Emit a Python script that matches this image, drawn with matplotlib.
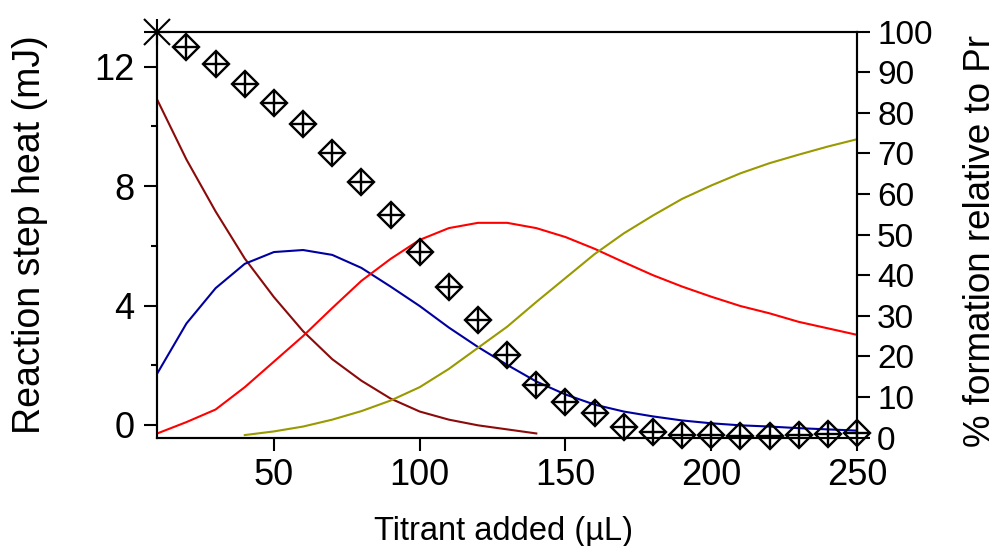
import matplotlib
matplotlib.use("Agg")
import matplotlib.pyplot as plt

plt.rcParams['font.family'] = ['Liberation Sans', 'DejaVu Sans']

# Titrant volume grids (µL)
vol_full = [10, 20, 30, 40, 50, 60, 70, 80, 90, 100, 110, 120, 130, 140, 150,
            160, 170, 180, 190, 200, 210, 220, 230, 240, 250]
vol_early = vol_full[:14]            # 10 .. 140
vol_late = vol_full[3:]              # 40 .. 250
vol_steps = vol_full[1:]             # 20 .. 250

# Species formation (%), right axis
species_free = [83.2, 68.5, 55.7, 44.1, 34.6, 26.2, 19.3, 14.0, 9.6, 6.4, 4.4,
                3.0, 2.0, 1.0]
species_1 = [15.8, 28.1, 36.8, 42.8, 45.7, 46.2, 45.0, 41.8, 37.2, 32.4, 27.1,
             22.3, 17.9, 13.8, 10.6, 8.1, 6.4, 5.2, 4.2, 3.5, 3.0, 2.7, 2.3,
             2.0, 1.7]
species_2 = [1.0, 3.8, 6.9, 12.4, 18.7, 25.0, 31.9, 38.6, 44.0, 48.7, 51.6,
             52.9, 52.9, 51.6, 49.4, 46.5, 43.2, 40.0, 37.2, 34.7, 32.4, 30.6,
             28.5, 26.9, 25.3]
species_3 = [0.6, 1.5, 2.7, 4.4, 6.5, 9.1, 12.4, 16.9, 22.1, 27.3, 33.4, 39.3,
             45.2, 50.3, 54.7, 58.8, 62.1, 65.1, 67.6, 69.7, 71.7, 73.5]

# Measured step heats (scaled to the right axis)
start_vol = [10]
start_val = [100.0]
step_vals = [96.3, 92.0, 87.1, 82.5, 77.3, 70.2, 63.0, 54.8, 45.8, 37.2, 29.0,
             20.3, 12.9, 8.8, 6.0, 2.7, 1.3, 0.6, 0.5, 0.4, 0.4, 0.6, 0.9, 1.0]

left_major = [0, 4, 8, 12]
left_minor = [2, 6, 10]
x_ticks = [50, 100, 150, 200, 250]
right_ticks = [0, 10, 20, 30, 40, 50, 60, 70, 80, 90, 100]

W, H = 1000, 546
fig = plt.figure(figsize=(W / 100, H / 100), dpi=100)
ax = fig.add_axes([157.3 / W, 1 - 437.5 / H, (857 - 157.3) / W, (437.5 - 31.7) / H])

ax.set_xlim(10, 250)
ax.set_ylim(-0.42, 13.17)
ax.set_xticks(x_ticks)
ax.set_yticks(left_major)
ax.set_yticks(left_minor, minor=True)
ax.set_xticks([], minor=True)

for sp in ax.spines.values():
    sp.set_linewidth(1.5)

ax.tick_params(axis='x', which='major', direction='out', length=9.5, width=1.5,
               labelsize=26, pad=5)
ax.tick_params(axis='y', which='major', direction='out', length=9.5, width=1.5,
               labelsize=26, pad=7)
ax.tick_params(axis='y', which='minor', direction='out', length=4.5, width=1.5)

ax2 = ax.twinx()
ax2.set_ylim(0, 100)
ax2.set_yticks(right_ticks)
ax2.tick_params(axis='y', direction='out', length=9.5, width=1.5,
                labelsize=24, pad=5)
for sp in ax2.spines.values():
    sp.set_linewidth(1.5)

lw = 1.5
ax2.plot(vol_early, species_free, color='#8b0a0a', lw=lw)
ax2.plot(vol_full, species_1, color='#0000a0', lw=lw)
ax2.plot(vol_full, species_2, color='#ff0000', lw=lw)
ax2.plot(vol_late, species_3, color='#999900', lw=lw)

ax2.plot(vol_steps, step_vals, linestyle='none', marker='D', markersize=13,
         markerfacecolor='none', markeredgecolor='black', markeredgewidth=1.7,
         clip_on=False, zorder=5)
ax2.plot(vol_steps, step_vals, linestyle='none', marker='+', markersize=18.5,
         markeredgecolor='black', markeredgewidth=1.7, clip_on=False, zorder=5)
ax2.plot(start_vol, start_val, linestyle='none', marker='x', markersize=19,
         markeredgecolor='black', markeredgewidth=1.5, clip_on=False, zorder=6)
ax2.plot(start_vol, start_val, linestyle='none', marker='+', markersize=19,
         markeredgecolor='black', markeredgewidth=1.5, clip_on=False, zorder=6)

# Axis titles
fig.text(40 / W, 1 - 235 / H, 'Reaction step heat (mJ)', rotation=90,
         rotation_mode='anchor', ha='center', va='baseline', fontsize=27)
fig.text(990 / W, 1 - 447 / H, '% formation relative to Pr', rotation=90,
         rotation_mode='anchor', ha='left', va='baseline', fontsize=26.5)
fig.text(504 / W, 1 - 540 / H, 'Titrant added (µL)', ha='center',
         va='baseline', fontsize=23.5)

fig.savefig('out.png', dpi=100)
